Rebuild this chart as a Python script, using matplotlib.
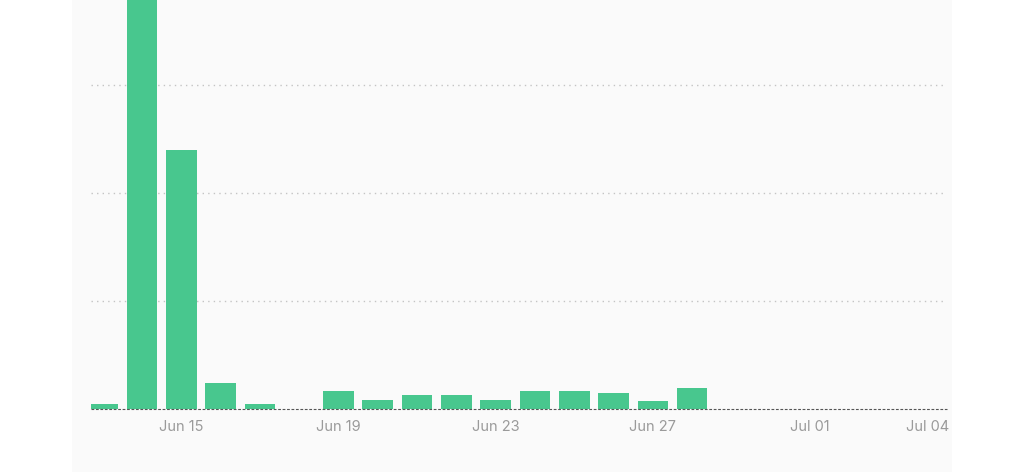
import matplotlib
matplotlib.use("Agg")
import matplotlib.pyplot as plt
from matplotlib.patches import Rectangle
import numpy as np

# Data
dates = ["Jun 13", "Jun 14", "Jun 15", "Jun 16", "Jun 17", "Jun 18", "Jun 19",
         "Jun 20", "Jun 21", "Jun 22", "Jun 23", "Jun 24", "Jun 25", "Jun 26",
         "Jun 27", "Jun 28", "Jun 29", "Jun 30", "Jul 01", "Jul 02", "Jul 03", "Jul 04"]
values = [2.3, 215, 120, 12.2, 2.3, 0, 8.3,
          4.3, 6.8, 6.8, 4.3, 8.3, 8.3, 7.5,
          3.7, 9.9, 0, 0, 0, 0, 0, 0]
tick_labels = ["Jun 15", "Jun 19", "Jun 23", "Jun 27", "Jul 01", "Jul 04"]
grid_values = [50, 100, 150]

W, H = 1024, 472
fig = plt.figure(figsize=(W / 100, H / 100), dpi=100)
fig.patch.set_facecolor("white")
fig.patches.append(Rectangle((72 / W, 0), (952 - 72) / W, 1, transform=fig.transFigure,
                             facecolor="#fafafa", edgecolor="none", zorder=-10))

ax = fig.add_axes([91 / W, (H - 409.3) / H, (946.7 - 91) / W, 409.3 / H])
ax.set_zorder(5)
ax.set_facecolor("none")
x = np.arange(len(dates))
ax.bar(x, values, width=0.78, color="#48c78e", zorder=2)
ax.set_xlim(-0.30, len(dates) - 1 + 0.48)
ax.set_ylim(0, 189.5)

for g in grid_values:
    ax.axhline(g, color="#c4c4c4", linestyle=(0, (1, 3)), linewidth=1.0, zorder=1)
ax.axhline(0, color="#555555", linestyle=(0, (2.5, 1.5)), linewidth=0.8, zorder=3,
           clip_on=False)

tick_pos = [dates.index(t) for t in tick_labels]
ax.set_xticks(tick_pos)
ax.set_xticklabels(tick_labels, fontfamily="Inter", fontsize=10.5, color="#9a9a9a")
ax.tick_params(axis="x", length=0, pad=8)
ax.set_yticks([])
for s in ax.spines.values():
    s.set_visible(False)

fig.savefig("out.png", dpi=100, facecolor="white")
